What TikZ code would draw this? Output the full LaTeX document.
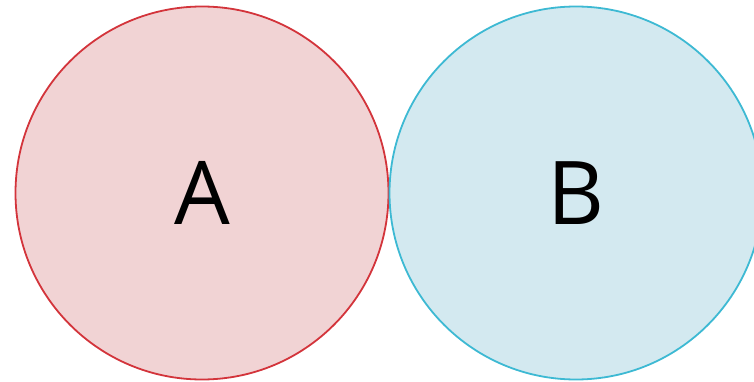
\documentclass[tikz,border=0pt]{standalone}
\usepackage{fontspec}
\setmainfont{Open Sans}
\usetikzlibrary{positioning}
\definecolor{rosefill}{HTML}{F1D3D4}
\definecolor{roseline}{HTML}{D3343B}
\definecolor{skyfill}{HTML}{D3E9F0}
\definecolor{skyline}{HTML}{3DB9D3}
\begin{document}
\begin{tikzpicture}[x=1pt,y=-1pt,font=\fontsize{88}{88}\selectfont,set/.style={circle,minimum size=373pt,inner sep=0pt,line width=1.8pt}]
\useasboundingbox (0,0) rectangle (754,382);
\node[set,draw=roseline,fill=rosefill] (setA) at (202,193) {A};
\node[set,draw=skyline,fill=skyfill] (setB) at (576,193) {B};
\end{tikzpicture}
\end{document}
